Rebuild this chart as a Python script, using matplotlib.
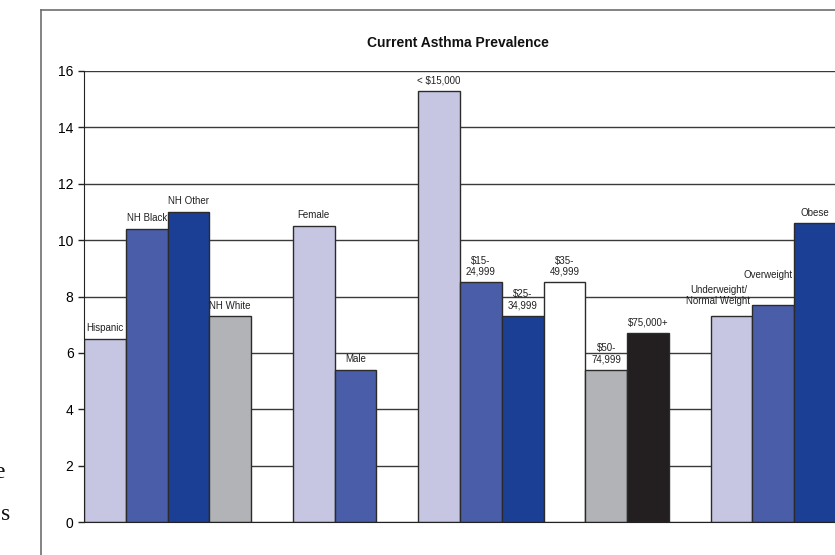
import matplotlib.pyplot as plt
from matplotlib.lines import Line2D

plt.rcParams['font.family'] = ['Liberation Sans', 'DejaVu Sans']

# current asthma prevalence (%) by subgroup
race_labels = ['Hispanic', 'NH Black', 'NH Other', 'NH White']
race_values = [6.5, 10.4, 11.0, 7.3]

sex_labels = ['Female', 'Male']
sex_values = [10.5, 5.4]

income_labels = ['< $15,000', '$15-\n24,999', '$25-\n34,999', '$35-\n49,999',
                 '$50-\n74,999', '$75,000+']
income_values = [15.3, 8.5, 7.3, 8.5, 5.4, 6.7]

weight_labels = ['Underweight/\nNormal Weight', 'Overweight', 'Obese']
weight_values = [7.3, 7.7, 10.6]

yticks = [0, 2, 4, 6, 8, 10, 12, 14, 16]

lav = '#c6c6e2'
mid = '#4a5da8'
dark = '#1b3f95'
grey = '#b2b3b6'
groups = [
    (race_labels, race_values, [lav, mid, dark, grey]),
    (sex_labels, sex_values, [lav, mid]),
    (income_labels, income_values, [lav, mid, dark, 'white', grey, '#231f20']),
    (weight_labels, weight_values, [lav, mid, dark]),
]

# labels nudged (points) where they would collide
nudge = {'Underweight/\nNormal Weight': (-9.5, 3), 'Overweight': (-3.5, 14)}

fig = plt.figure(figsize=(8.35, 5.55), dpi=100)
ax = fig.add_axes([84 / 835, 33 / 555, 751 / 835, 451 / 555])

ax.set_axisbelow(True)
ax.yaxis.grid(True, color='#3a3a3a', lw=1)

pos = 0
for labels, values, colors in groups:
    for lab, val, col in zip(labels, values, colors):
        ax.bar(pos, val, width=1.0, color=col, edgecolor='#2b2b2b', lw=1, zorder=2)
        dx, dy = nudge.get(lab, (0, 0))
        ax.annotate(lab, (pos, val), xytext=(dx, 5.5 + dy), textcoords='offset points',
                    ha='center', va='baseline', fontsize=7, color='#222222',
                    linespacing=1.15, zorder=3)
        pos += 1
    pos += 1  # blank slot between groups

ax.set_xlim(-0.5, 17.475)
ax.set_ylim(0, 16)
ax.set_yticks(yticks)
ax.set_xticks([])
ax.tick_params(axis='y', length=4.5, width=1, pad=3, labelsize=10, color='#222222')
for side in ['top', 'right']:
    ax.spines[side].set_visible(False)
ax.spines['left'].set_color('#222222')
ax.spines['bottom'].set_color('#222222')
ax.spines['bottom'].set_zorder(4)

fig.text(458 / 835, 1 - 43 / 555, 'Current Asthma Prevalence', ha='center', va='center',
         fontsize=10, fontweight='bold', color='#111111')

# surrounding chart frame
fig.add_artist(Line2D([41 / 835, 41 / 835], [0, 1 - 10 / 555], color='#6e6e6e', lw=1.2))
fig.add_artist(Line2D([41 / 835, 1], [1 - 10 / 555, 1 - 10 / 555], color='#6e6e6e', lw=1.2))

# edge of the page text beside the chart
fig.text(5 / 835, 1 - 478 / 555, 'e', ha='right', va='baseline', fontsize=17,
         family='Liberation Serif', color='#111111')
fig.text(10 / 835, 1 - 520 / 555, 's', ha='right', va='baseline', fontsize=17,
         family='Liberation Serif', color='#111111')

fig.savefig('out.png', dpi=100)
